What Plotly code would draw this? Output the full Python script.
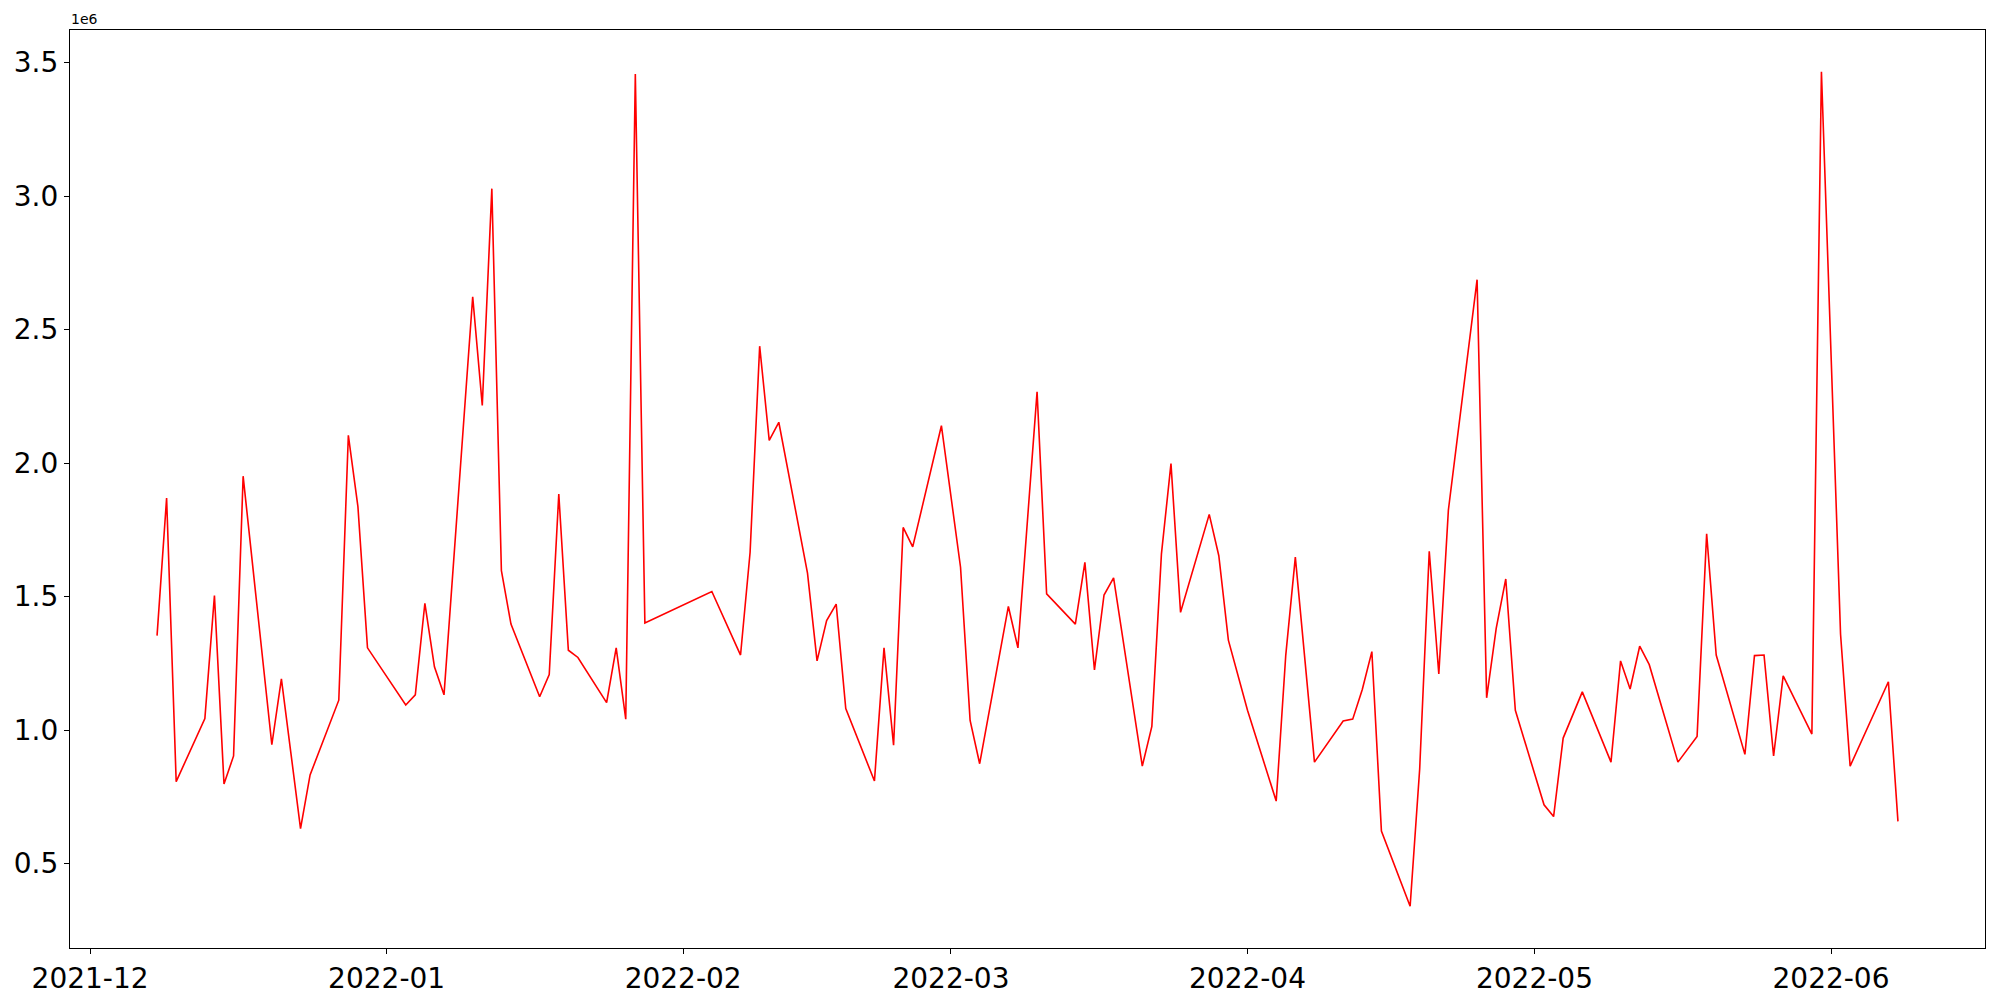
import pandas as pd
import plotly.graph_objects as go

dates = [
    "2021-12-08", "2021-12-09", "2021-12-10", "2021-12-13", "2021-12-14", "2021-12-15",
    "2021-12-16", "2021-12-17", "2021-12-20", "2021-12-21", "2021-12-22", "2021-12-23",
    "2021-12-24", "2021-12-27", "2021-12-28", "2021-12-29", "2021-12-30",
    "2022-01-03", "2022-01-04", "2022-01-05", "2022-01-06", "2022-01-07",
    "2022-01-10", "2022-01-11", "2022-01-12", "2022-01-13", "2022-01-14",
    "2022-01-17", "2022-01-18", "2022-01-19", "2022-01-20", "2022-01-21",
    "2022-01-24", "2022-01-25", "2022-01-26", "2022-01-27", "2022-01-28",
    "2022-02-04", "2022-02-07", "2022-02-08", "2022-02-09", "2022-02-10", "2022-02-11",
    "2022-02-14", "2022-02-15", "2022-02-16", "2022-02-17", "2022-02-18",
    "2022-02-21", "2022-02-22", "2022-02-23", "2022-02-24", "2022-02-25",
    "2022-02-28", "2022-03-02", "2022-03-03", "2022-03-04",
    "2022-03-07", "2022-03-08", "2022-03-10", "2022-03-11",
    "2022-03-14", "2022-03-15", "2022-03-16", "2022-03-17", "2022-03-18",
    "2022-03-21", "2022-03-22", "2022-03-23", "2022-03-24", "2022-03-25",
    "2022-03-28", "2022-03-29", "2022-03-30", "2022-04-01",
    "2022-04-04", "2022-04-05", "2022-04-06", "2022-04-08",
    "2022-04-11", "2022-04-12", "2022-04-13", "2022-04-14", "2022-04-15",
    "2022-04-18", "2022-04-19", "2022-04-20", "2022-04-21", "2022-04-22",
    "2022-04-25", "2022-04-26", "2022-04-27", "2022-04-28", "2022-04-29",
    "2022-05-02", "2022-05-03", "2022-05-04", "2022-05-06",
    "2022-05-09", "2022-05-10", "2022-05-11", "2022-05-12", "2022-05-13",
    "2022-05-16", "2022-05-18", "2022-05-19", "2022-05-20",
    "2022-05-23", "2022-05-24", "2022-05-25", "2022-05-26", "2022-05-27",
    "2022-05-30", "2022-05-31", "2022-06-02", "2022-06-03",
    "2022-06-07", "2022-06-08",
]

values = [
    1354000, 1869000, 807000, 1043000, 1504000, 798000,
    903000, 1951000, 945000, 1192000, 912000, 631000,
    832000, 1112000, 2104000, 1837000, 1308000,
    1094000, 1132000, 1475000, 1237000, 1132000,
    2623000, 2216000, 3028000, 1597000, 1397000,
    1125000, 1208000, 1884000, 1299000, 1272000,
    1103000, 1308000, 1041000, 3457000, 1401000,
    1519000, 1281000, 1666000, 2438000, 2085000, 2153000,
    1588000, 1259000, 1410000, 1472000, 1081000,
    809000, 1308000, 943000, 1759000, 1686000,
    2140000, 1610000, 1036000, 874000,
    1463000, 1308000, 2267000, 1510000,
    1397000, 1628000, 1225000, 1506000, 1570000,
    865000, 1014000, 1659000, 1998000, 1441000,
    1808000, 1653000, 1337000, 1074000,
    734000, 1281000, 1648000, 880000,
    1034000, 1041000, 1152000, 1294000, 622000,
    340000, 854000, 1670000, 1210000, 1824000,
    2687000, 1121000, 1381000, 1566000, 1074000,
    720000, 676000, 970000, 1143000,
    880000, 1259000, 1154000, 1314000, 1245000,
    880000, 976000, 1735000, 1281000,
    909000, 1279000, 1281000, 903000, 1203000,
    985000, 3466000, 1359000, 865000,
    1181000, 658000,
]

x_tick_vals = ["2021-12-01", "2022-01-01", "2022-02-01", "2022-03-01",
               "2022-04-01", "2022-05-01", "2022-06-01"]
x_tick_text = ["2021-12", "2022-01", "2022-02", "2022-03", "2022-04", "2022-05", "2022-06"]
y_tick_vals = [500000, 1000000, 1500000, 2000000, 2500000, 3000000, 3500000]
y_tick_text = ["0.5", "1.0", "1.5", "2.0", "2.5", "3.0", "3.5"]

dt = pd.to_datetime(dates)
span = dt.max() - dt.min()
x_range = [dt.min() - 0.05 * span, dt.max() + 0.05 * span]
vmin, vmax = min(values), max(values)
vspan = vmax - vmin
y_range = [vmin - 0.05 * vspan, vmax + 0.05 * vspan]

fig = go.Figure()
fig.add_trace(go.Scatter(x=dt, y=values, mode="lines",
                         line=dict(color="#ff0000", width=1.6),
                         showlegend=False, hoverinfo="skip"))

axis_common = dict(showline=True, linecolor="black", linewidth=1.2, mirror=True,
                   ticks="outside", ticklen=5, tickwidth=1.2, tickcolor="black",
                   showgrid=False, zeroline=False, automargin=False,
                   tickfont=dict(family="DejaVu Sans", size=28, color="black"))

fig.update_xaxes(range=x_range, tickmode="array", tickvals=x_tick_vals,
                 ticktext=x_tick_text, **axis_common)
fig.update_yaxes(range=y_range, tickmode="array", tickvals=y_tick_vals,
                 ticktext=y_tick_text, **axis_common)

fig.add_annotation(text="1e6", xref="paper", yref="paper", x=0, y=1,
                   xanchor="left", yanchor="bottom", showarrow=False,
                   font=dict(family="DejaVu Sans", size=14, color="black"),
                   xshift=-1, yshift=1)

fig.update_layout(width=2000, height=1000,
                  margin=dict(l=70, r=15, t=30, b=52),
                  plot_bgcolor="white", paper_bgcolor="white")

# remove the browser's default 8px body margin so the figure sits at (0, 0)
fig.write_html("out.html",
               config={"displayModeBar": False},
               post_script="document.body.style.margin='0';document.body.style.overflow='hidden';")
